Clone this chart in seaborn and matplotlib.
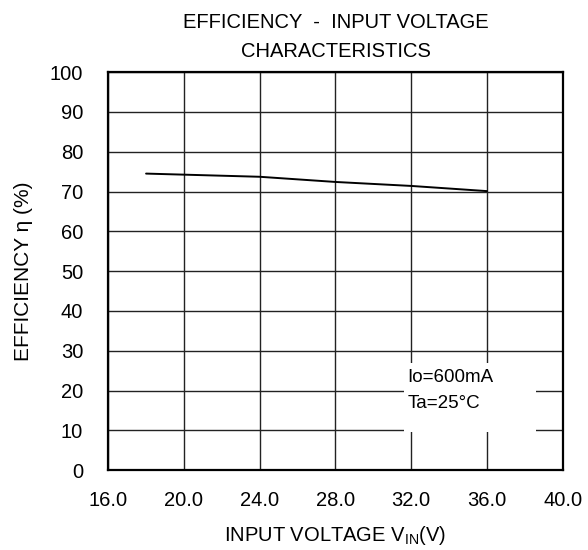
import matplotlib
matplotlib.use("Agg")
import matplotlib.pyplot as plt
from matplotlib.patches import Rectangle
import seaborn as sns
import pandas as pd

# Data
vin = [18.0, 24.0, 28.0, 32.0, 36.0]
efficiency = [74.5, 73.7, 72.4, 71.4, 70.1]

x_ticks = [16, 20, 24, 28, 32, 36, 40]
y_ticks = [0, 10, 20, 30, 40, 50, 60, 70, 80, 90, 100]

sns.set_style("white")
plt.rcParams['font.family'] = ['Liberation Sans', 'DejaVu Sans']
plt.rcParams['mathtext.fontset'] = 'custom'
plt.rcParams['mathtext.rm'] = 'Liberation Sans'
plt.rcParams['mathtext.it'] = 'Liberation Sans'
for key in ['text.color', 'axes.labelcolor', 'xtick.color', 'ytick.color']:
    plt.rcParams[key] = 'black'

df = pd.DataFrame({"Vin": vin, "Eff": efficiency})

fig, ax = plt.subplots(figsize=(5.88, 5.5), dpi=100)
fig.subplots_adjust(left=0.184, right=0.957, top=0.869, bottom=0.145)

sns.lineplot(data=df, x="Vin", y="Eff", color="black", linewidth=1.4, ax=ax, zorder=3)

ax.set_xlim(16, 40)
ax.set_ylim(0, 100)
ax.set_xticks(x_ticks)
ax.set_xticklabels([f"{t:.1f}" for t in x_ticks])
ax.set_yticks(y_ticks)
ax.tick_params(axis="both", length=0, labelsize=14.5)
ax.tick_params(axis="x", pad=15)
ax.tick_params(axis="y", pad=18)

ax.set_axisbelow(True)
ax.grid(True, color="#222222", linewidth=1.0)
for s in ax.spines.values():
    s.set_visible(True)
    s.set_color("black")
    s.set_linewidth(1.6)

# white box masking the grid behind the condition note
ax.add_patch(Rectangle((31.6, 9.5), 7.0, 17.4, facecolor="white", edgecolor="none", zorder=1.5))
ax.text(31.8, 23.4, "Io=600mA", fontsize=13.5, va="center", ha="left", zorder=4)
ax.text(31.8, 16.8, "Ta=25°C", fontsize=13.5, va="center", ha="left", zorder=4)

ax.set_title("EFFICIENCY  -  INPUT VOLTAGE\nCHARACTERISTICS", fontsize=14.5, pad=11, linespacing=1.65)
ax.set_xlabel("INPUT VOLTAGE V$_{\\mathrm{IN}}$(V)", fontsize=14.5, labelpad=10)
ax.set_ylabel("EFFICIENCY η (%)", fontsize=15, labelpad=12)

fig.savefig("out.png", dpi=100)
